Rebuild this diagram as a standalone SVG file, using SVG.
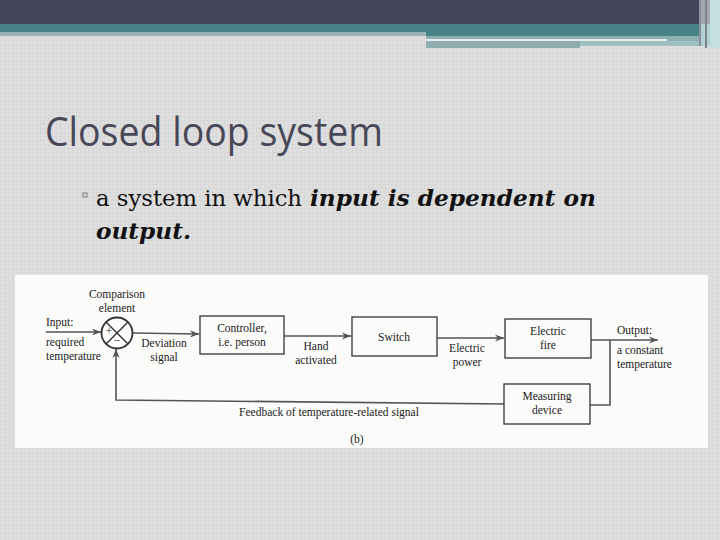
<svg xmlns="http://www.w3.org/2000/svg" width="720" height="540" viewBox="0 0 720 540">
<defs>
<pattern id="tex" width="4" height="4" patternUnits="userSpaceOnUse">
<rect width="4" height="4" fill="#dfdfdf"/>
<rect width="4" height="1" fill="#d8d8d8"/>
<rect width="1" height="4" fill="#d8d8d8"/>
</pattern>
<marker id="ah" viewBox="0 0 10 10" refX="10" refY="5" markerWidth="9" markerHeight="9" markerUnits="userSpaceOnUse" orient="auto">
<path d="M0,1 L10,5 L0,9 L3,5 z" fill="#555"/>
</marker>
<style>
.t{font-family:"Liberation Serif","Times New Roman",serif;font-size:11.5px;fill:#222}
.m{text-anchor:middle}
.box{fill:none;stroke:#333;stroke-width:1.3}
.ln{fill:none;stroke:#555;stroke-width:1.6}
.b{font-family:"DejaVu Serif","Liberation Serif",serif;font-size:22px;fill:#111}
.bi{font-weight:bold;font-style:italic}
</style>
</defs>
<rect width="720" height="540" fill="url(#tex)"/>
<!-- header bars -->
<rect x="0" y="0" width="700" height="24" fill="#434457"/>
<rect x="0" y="24" width="700" height="8" fill="#478286"/>
<rect x="0" y="32" width="426" height="4" fill="#9cb4b6"/>
<rect x="426" y="32" width="274" height="4" fill="#478286"/>
<rect x="426" y="36" width="274" height="3" fill="#8fb0b1"/>
<rect x="426" y="39" width="241" height="2" fill="#e6eeee"/>
<rect x="667" y="39" width="33" height="3" fill="#8fb0b1"/>
<rect x="426" y="41" width="154" height="7" fill="#8fadaf"/>
<rect x="580" y="41" width="120" height="5" fill="#9fbfc0"/>
<rect x="700" y="0" width="20" height="24" fill="#a4a6b2"/>
<rect x="700" y="24" width="20" height="22" fill="#b2d1d2"/>
<rect x="710" y="0" width="10" height="48" fill="#c6dede"/>
<rect x="699" y="0" width="2" height="46" fill="#8c8e9c"/>
<rect x="705" y="0" width="2" height="48" fill="#7e8494"/>
<!-- title -->
<text x="45" y="146" font-family="'Open Sans','Noto Sans',sans-serif" font-size="40" fill="#474757" textLength="338" lengthAdjust="spacingAndGlyphs">Closed loop system</text>
<rect x="83" y="193" width="4" height="4" fill="none" stroke="#666" stroke-width="0.8"/>
<text class="b" x="96" y="206" textLength="206" lengthAdjust="spacingAndGlyphs">a system in which</text>
<text class="b bi" x="310" y="206" textLength="286" lengthAdjust="spacingAndGlyphs">input is dependent on</text>
<text class="b bi" x="96" y="239" textLength="95" lengthAdjust="spacingAndGlyphs">output.</text>
<!-- diagram panel -->
<rect x="15" y="275" width="693" height="173" fill="#fbfbfa"/>
<g id="connectors">
<line class="ln" x1="46" y1="332" x2="101" y2="332" marker-end="url(#ah)"/>
<line class="ln" x1="133" y1="333" x2="199" y2="334" marker-end="url(#ah)"/>
<line class="ln" x1="284" y1="336" x2="351" y2="336" marker-end="url(#ah)"/>
<line class="ln" x1="437" y1="338" x2="504" y2="338" marker-end="url(#ah)"/>
<line class="ln" x1="591" y1="340" x2="658" y2="340" marker-end="url(#ah)"/>
<polyline class="ln" points="610,340 610,405 590,405"/>
<polyline class="ln" points="504,404 116,400 116,349" marker-end="url(#ah)"/>
</g>
<g id="comparison">
<circle cx="117" cy="333" r="15.5" fill="#fff" stroke="#333" stroke-width="1.8"/>
<line x1="106" y1="322" x2="128" y2="344" stroke="#333" stroke-width="1.4"/>
<line x1="128" y1="322" x2="106" y2="344" stroke="#333" stroke-width="1.4"/>
<text class="t m" x="109" y="335" font-size="10">+</text>
<text class="t m" x="117" y="344" font-size="10">−</text>
<text class="t m" x="117" y="298">Comparison</text>
<text class="t m" x="117" y="312">element</text>
</g>
<g id="input">
<text class="t" x="46" y="326">Input:</text>
<text class="t" x="46" y="346">required</text>
<text class="t" x="46" y="360">temperature</text>
</g>
<g id="deviation">
<text class="t m" x="164" y="347">Deviation</text>
<text class="t m" x="164" y="361">signal</text>
</g>
<g id="controller">
<rect class="box" x="200" y="316" width="84" height="38"/>
<text class="t m" x="242" y="332">Controller,</text>
<text class="t m" x="242" y="346">i.e. person</text>
</g>
<g id="hand">
<text class="t m" x="316" y="350">Hand</text>
<text class="t m" x="316" y="364">activated</text>
</g>
<g id="switch">
<rect class="box" x="352" y="317" width="85" height="39"/>
<text class="t m" x="394" y="341">Switch</text>
</g>
<g id="power">
<text class="t m" x="467" y="352">Electric</text>
<text class="t m" x="467" y="366">power</text>
</g>
<g id="fire">
<rect class="box" x="505" y="319" width="86" height="39"/>
<text class="t m" x="548" y="335">Electric</text>
<text class="t m" x="548" y="349">fire</text>
</g>
<g id="output">
<text class="t" x="617" y="334">Output:</text>
<text class="t" x="617" y="354">a constant</text>
<text class="t" x="617" y="368">temperature</text>
</g>
<g id="measuring">
<rect class="box" x="504" y="384" width="86" height="40"/>
<text class="t m" x="547" y="400">Measuring</text>
<text class="t m" x="547" y="414">device</text>
</g>
<g id="feedback">
<text class="t m" x="329" y="416">Feedback of temperature-related signal</text>
</g>
<text class="t m" x="357" y="443">(b)</text>
</svg>
